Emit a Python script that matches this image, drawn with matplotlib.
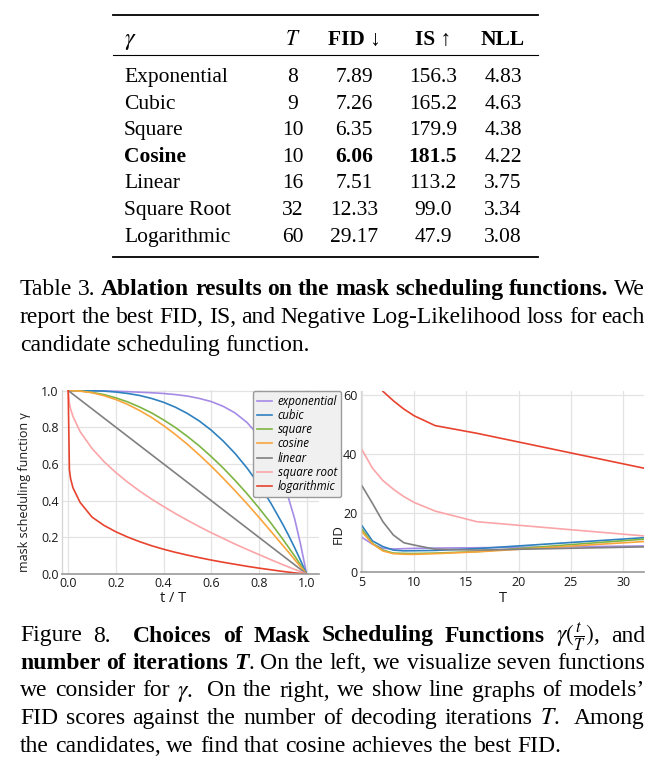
import re
import matplotlib
matplotlib.use('Agg')
import matplotlib.pyplot as plt
from matplotlib.lines import Line2D

plt.rcParams['mathtext.fontset'] = 'stix'
SERIF = ['Liberation Serif', 'DejaVu Serif']
SANS = ['Open Sans', 'DejaVu Sans']

# ---- Table 3 data
schedules = ['Exponential', 'Cubic', 'Square', 'Cosine', 'Linear', 'Square Root', 'Logarithmic']
best_T = [8, 9, 10, 10, 16, 32, 60]
best_fid = [7.89, 7.26, 6.35, 6.06, 7.51, 12.33, 29.17]
best_is = [156.3, 165.2, 179.9, 181.5, 113.2, 99.0, 47.9]
best_nll = [4.83, 4.63, 4.38, 4.22, 3.75, 3.34, 3.08]
best_row = 3

# ---- Figure 8 left: mask scheduling functions
ratio = [0, 0.005, 0.01, 0.02, 0.05, 0.1, 0.15, 0.2, 0.25, 0.3, 0.35, 0.4, 0.45,
         0.5, 0.55, 0.6, 0.65, 0.7, 0.75, 0.8, 0.85, 0.9, 0.925, 0.95, 0.975, 1.0]
gamma_exponential = [1.0, 1.0, 1.0, 1.0, 1.0, 0.999, 0.998, 0.996, 0.994, 0.991, 0.988, 0.984, 0.978,
                     0.97, 0.957, 0.94, 0.914, 0.878, 0.826, 0.753, 0.65, 0.50, 0.41, 0.30, 0.16, 0.0]
gamma_cubic = [1.0, 1.0, 1.0, 1.0, 1.0, 0.999, 0.997, 0.992, 0.984, 0.973, 0.957, 0.936, 0.909,
               0.875, 0.834, 0.784, 0.725, 0.657, 0.578, 0.488, 0.386, 0.271, 0.209, 0.143, 0.073, 0.0]
gamma_square = [1.0, 1.0, 1.0, 1.0, 0.998, 0.99, 0.978, 0.96, 0.938, 0.91, 0.878, 0.84, 0.798,
                0.75, 0.698, 0.64, 0.578, 0.51, 0.438, 0.36, 0.278, 0.19, 0.144, 0.098, 0.049, 0.0]
gamma_cosine = [1.0, 1.0, 1.0, 0.999, 0.997, 0.988, 0.972, 0.951, 0.924, 0.891, 0.853, 0.809, 0.760,
                0.707, 0.649, 0.588, 0.522, 0.454, 0.383, 0.309, 0.233, 0.156, 0.118, 0.078, 0.039, 0.0]
gamma_linear = [1.0, 0.995, 0.99, 0.98, 0.95, 0.9, 0.85, 0.8, 0.75, 0.7, 0.65, 0.6, 0.55,
                0.5, 0.45, 0.4, 0.35, 0.3, 0.25, 0.2, 0.15, 0.1, 0.075, 0.05, 0.025, 0.0]
gamma_sqrt = [1.0, 0.929, 0.90, 0.859, 0.776, 0.684, 0.613, 0.553, 0.50, 0.452, 0.408, 0.368, 0.329,
              0.293, 0.258, 0.225, 0.194, 0.163, 0.134, 0.106, 0.078, 0.051, 0.038, 0.025, 0.013, 0.0]
gamma_log = [1.0, 0.57, 0.52, 0.47, 0.39, 0.31, 0.265, 0.23, 0.201, 0.176, 0.154, 0.135, 0.118,
             0.103, 0.089, 0.076, 0.064, 0.053, 0.042, 0.032, 0.023, 0.014, 0.010, 0.006, 0.003, 0.0]

# ---- Figure 8 right: FID vs number of iterations
iters = [5, 6, 7, 8, 9, 10, 12, 16, 32]
fid_exponential = [11.8, 9.5, 8.1, 7.89, 8.0, 8.1, 8.2, 8.3, 8.9]
fid_cubic = [15.7, 10.6, 8.7, 7.5, 7.26, 7.3, 7.4, 8.0, 11.7]
fid_square = [14.5, 9.8, 7.5, 6.5, 6.4, 6.35, 6.5, 7.0, 11.2]
fid_cosine = [13.7, 9.6, 7.2, 6.3, 6.1, 6.06, 6.3, 6.9, 10.4]
fid_linear = [29.2, 23.3, 17.1, 12.6, 10.0, 9.2, 7.8, 7.51, 8.6]
fid_sqrt = [41.4, 35.2, 31.0, 28.1, 25.6, 23.6, 20.7, 17.1, 12.3]
fid_log = [72.0, 66.0, 61.2, 58.0, 55.2, 52.9, 49.6, 47.0, 35.2]

labels = ['exponential', 'cubic', 'square', 'cosine', 'linear', 'square root', 'logarithmic']
colors = ['#a58be6', '#2f80bf', '#7db544', '#f9a53c', '#808080', '#fba5a8', '#e8432e']
gammas = [gamma_exponential, gamma_cubic, gamma_square, gamma_cosine, gamma_linear, gamma_sqrt, gamma_log]
fids = [fid_exponential, fid_cubic, fid_square, fid_cosine, fid_linear, fid_sqrt, fid_log]

W, H = 663, 768
fig = plt.figure(figsize=(W / 100, H / 100), dpi=100)

# overlay in pixel coordinates for the table and captions
page = fig.add_axes([0, 0, 1, 1])
page.set_xlim(0, W)
page.set_ylim(H, 0)
page.axis('off')

# ---- table
for y, lw in [(15, 1.3), (54.5, 0.8), (257, 1.3)]:
    page.add_line(Line2D([113, 538], [y, y], color='black', lw=lw))

col_x = [293, 354, 433, 503]
tsize = 15.5
page.text(124, 45, r'$\gamma$', fontsize=tsize + 2, family=SERIF, va='baseline', ha='left')
page.text(col_x[0], 45, r'$T$', fontsize=tsize, family=SERIF, va='baseline', ha='center')
for x, s in zip(col_x[1:], ['FID ↓', 'IS ↑', 'NLL']):
    page.text(x, 45, s, fontsize=tsize, family=SERIF, weight='bold', va='baseline', ha='center')

for i, name in enumerate(schedules):
    y = 82 + i * 26.6
    bold = 'bold' if i == best_row else 'normal'
    page.text(124, y, name, fontsize=tsize, family=SERIF, weight=bold, va='baseline', ha='left')
    page.text(col_x[0], y, str(best_T[i]), fontsize=tsize, family=SERIF, va='baseline', ha='center')
    page.text(col_x[1], y, f'{best_fid[i]:.2f}', fontsize=tsize, family=SERIF, weight=bold,
              va='baseline', ha='center')
    page.text(col_x[2], y, f'{best_is[i]:.1f}', fontsize=tsize, family=SERIF, weight=bold,
              va='baseline', ha='center')
    page.text(col_x[3], y, f'{best_nll[i]:.2f}', fontsize=tsize, family=SERIF, va='baseline', ha='center')

# ---- justified caption lines
STYLES = {'r': {}, 'b': {'weight': 'bold'}, 'bi': {'weight': 'bold', 'style': 'italic'}}
renderer = fig.canvas.get_renderer()


def caption_line(runs, y, size, x0=20, x1=645, justify=True):
    words = []
    pending = 0
    for text, style in runs:
        for p in re.split(r'( +)', text):
            if not p:
                continue
            if p.startswith(' '):
                pending += len(p)
            else:
                words.append((p, style, pending))
                pending = 0
    arts = [page.text(0, y, w, fontsize=size, family=SERIF, va='baseline', ha='left', **STYLES[st])
            for w, st, _ in words]
    widths = [a.get_window_extent(renderer).width for a in arts]
    space = 0.25 * size * 100 / 72
    nsp = sum(n for _, _, n in words[1:])
    natural = sum(widths) + nsp * space
    extra = ((x1 - x0) - natural) / nsp if (justify and nsp) else 0
    x = x0
    for k, a in enumerate(arts):
        if k > 0:
            x += words[k][2] * (space + extra)
        a.set_x(x)
        x += widths[k]


csize = 17
caption_line([('Table 3. ', 'r'), ('Ablation results on the mask scheduling functions.', 'b'), (' We', 'r')],
             295.3, csize)
caption_line([('report the best FID, IS, and Negative Log-Likelihood loss for each', 'r')], 323.3, csize)
caption_line([('candidate scheduling function.', 'r')], 351.3, csize, justify=False)

caption_line([('Figure 8.  ', 'r'), ('Choices of Mask Scheduling Functions', 'b'),
              (r' $\gamma(\frac{t}{T})$, and', 'r')], 641.5, csize)
caption_line([('number of iterations ', 'b'), ('T', 'bi'), ('. On the left, we visualize seven functions', 'r')],
             669, csize)
caption_line([(r'we consider for $\gamma$.  On the right, we show line graphs of models’', 'r')], 696.5, csize)
caption_line([(r'FID scores against the number of decoding iterations $T$.  Among', 'r')], 724, csize)
caption_line([('the candidates, we find that cosine achieves the best FID.', 'r')], 751.5, csize, justify=False)

# ---- plots
ax1 = fig.add_axes([62 / W, 1 - 574 / H, (319 - 62) / W, (574 - 390) / H])
ax2 = fig.add_axes([361 / W, 1 - 572.3 / H, (644 - 361) / W, (572.3 - 391) / H])

handles = []
for g, f, c, lab in zip(gammas, fids, colors, labels):
    h, = ax1.plot(ratio, g, color=c, lw=1.2, label=lab)
    ax2.plot(iters, f, color=c, lw=1.2)
    handles.append(h)

ax1.set_xlim(-0.026, 1.052)
ax1.set_ylim(0, 1.003)
ax1.set_xticks([0, 0.2, 0.4, 0.6, 0.8, 1.0])
ax1.set_yticks([0, 0.2, 0.4, 0.6, 0.8, 1.0])
ax1.set_xticklabels(['0.0', '0.2', '0.4', '0.6', '0.8', '1.0'])
ax1.set_yticklabels(['0.0', '0.2', '0.4', '0.6', '0.8', '1.0'])

ax2.set_xlim(4.9, 32)
ax2.set_ylim(0, 61.3)
ax2.set_xticks([5, 10, 15, 20, 25, 30])
ax2.set_yticks([0, 20, 40, 60])

for ax in (ax1, ax2):
    ax.grid(color='#e3e3e3', lw=0.9)
    ax.set_axisbelow(True)
    ax.spines['top'].set_visible(False)
    ax.spines['right'].set_visible(False)
    ax.spines['left'].set_color('#d4d4d4')
    ax.spines['left'].set_linewidth(0.9)
    ax.spines['bottom'].set_color('#9a9a9a')
    ax.spines['bottom'].set_linewidth(1.2)
    ax.tick_params(length=0, labelsize=9, colors='#1a1a1a', pad=2.5)
    for t in ax.get_xticklabels() + ax.get_yticklabels():
        t.set_family(SANS)

page.text(25, 492, 'mask scheduling function γ', rotation=90, fontsize=9, family=SANS,
          ha='center', va='center', color='#1a1a1a')
page.text(173, 598, 't / T', fontsize=10.5, family=SANS, ha='center', va='center', color='#1a1a1a')
page.text(338, 534, 'FID', rotation=90, fontsize=9.5, family=SANS, ha='center', va='center', color='#1a1a1a')
page.text(503, 598, 'T', fontsize=10.5, family=SANS, ha='center', va='center', color='#1a1a1a')

fig.legend(handles, labels, loc='upper left', bbox_to_anchor=(253 / W, 1 - 391 / H),
           bbox_transform=fig.transFigure, prop={'family': SANS, 'style': 'italic', 'size': 8.3},
           frameon=True, fancybox=True, facecolor='#f0f0f0', edgecolor='#9a9a9a', framealpha=1,
           handlelength=1.3, handletextpad=0.5, labelspacing=0.1, borderpad=0.35, borderaxespad=0)

fig.savefig('out.png', dpi=100)
